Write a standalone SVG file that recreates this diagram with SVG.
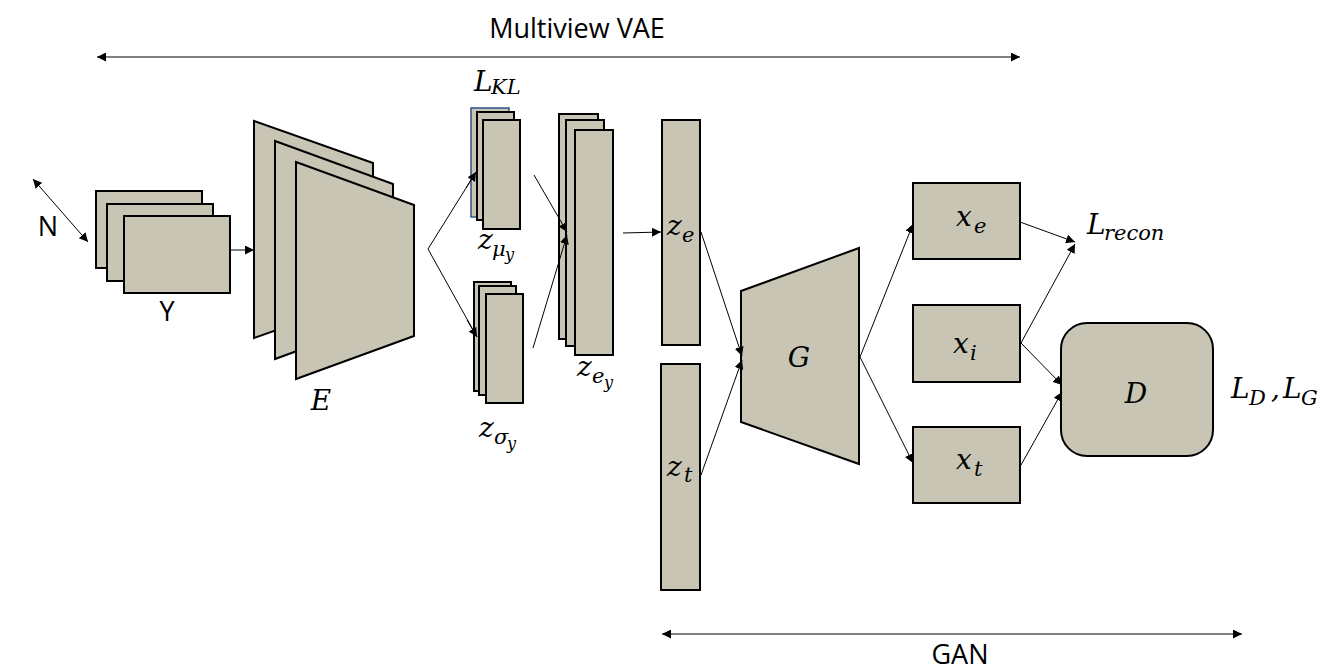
<svg xmlns="http://www.w3.org/2000/svg" width="1322" height="672" viewBox="0 0 1322 672">
<style>
.b{fill:#c8c5b4;stroke:#000;stroke-width:2}
.c{fill:none;stroke:#000;stroke-width:1}
.t{font-family:"Open Sans","Noto Sans",sans-serif;font-size:27px;fill:#000}
.m{font-family:"DejaVu Serif","Liberation Serif",serif;font-style:italic;font-size:28px;fill:#000}
.s{font-size:21px}
.ss{font-size:16px}
</style>
<defs>
<marker id="ah" viewBox="0 0 10 10" refX="10" refY="5" markerWidth="9" markerHeight="9" markerUnits="userSpaceOnUse" orient="auto-start-reverse"><path d="M0,0 L10,5 L0,10 z" fill="#000"/></marker>
</defs>
<rect width="1322" height="672" fill="#fff"/>

<g id="labels">
<text class="t" x="577" y="38" text-anchor="middle">Multiview VAE</text>
<text class="t" x="960" y="664" text-anchor="middle">GAN</text>
<text class="t" x="48" y="236" text-anchor="middle">N</text>
</g>

<g id="Y">
<rect class="b" x="96" y="191" width="106" height="77"/>
<rect class="b" x="107" y="204" width="106" height="77"/>
<rect class="b" x="124" y="216" width="106" height="77"/>
<text class="t" x="167" y="321" text-anchor="middle">Y</text>
</g>

<g id="E">
<polygon class="b" points="254,121 373,163 373,296 254,338"/>
<polygon class="b" points="275,141 393,184 393,316 275,359"/>
<polygon class="b" points="296,162 414,205 414,336 296,379"/>
<text class="m" x="321" y="410" text-anchor="middle">E</text>
</g>

<g id="zmu">
<rect x="471" y="108" width="38" height="109" fill="#c8c5b4" stroke="#2f528f" stroke-width="1.5"/>
<rect class="b" x="477" y="112" width="37" height="108"/>
<rect class="b" x="483" y="120" width="37" height="109"/>
<text class="m" x="474" y="91">L<tspan class="s" x="491" y="94">KL</tspan></text>
<text class="m" x="478" y="249">z<tspan class="s" x="492" y="256">μ</tspan><tspan class="ss" x="505" y="260">y</tspan></text>
</g>

<g id="zsigma">
<rect class="b" x="474" y="282" width="37" height="109"/>
<rect class="b" x="479" y="286" width="37" height="109"/>
<rect class="b" x="486" y="294" width="37" height="109"/>
<text class="m" x="479" y="437">z<tspan class="s" x="494" y="444">σ</tspan><tspan class="ss" x="507" y="449">y</tspan></text>
</g>

<g id="zey">
<rect class="b" x="559" y="114" width="39" height="225"/>
<rect class="b" x="566" y="120" width="38" height="226"/>
<rect class="b" x="575" y="130" width="38" height="225"/>
<text class="m" x="577" y="376">z<tspan class="s" x="592" y="383">e</tspan><tspan class="ss" x="604" y="388">y</tspan></text>
</g>

<g id="ze">
<rect class="b" x="662" y="120" width="38" height="225"/>
<text class="m" x="667" y="235">z<tspan class="s" x="682" y="242">e</tspan></text>
</g>

<g id="zt">
<rect class="b" x="661" y="364" width="39" height="226"/>
<text class="m" x="667" y="476">z<tspan class="s" x="684" y="482">t</tspan></text>
</g>

<g id="G">
<polygon class="b" points="741,291 859,248 859,464 741,422"/>
<text class="m" x="799" y="367" text-anchor="middle">G</text>
</g>

<g id="xe">
<rect class="b" x="913" y="183" width="107" height="76"/>
<text class="m" x="956" y="226">x<tspan class="s" x="974" y="233">e</tspan></text>
</g>
<g id="xi">
<rect class="b" x="913" y="305" width="107" height="77"/>
<text class="m" x="953" y="353">x<tspan class="s" x="970" y="360">i</tspan></text>
</g>
<g id="xt">
<rect class="b" x="913" y="427" width="107" height="76"/>
<text class="m" x="956" y="469">x<tspan class="s" x="974" y="476">t</tspan></text>
</g>

<g id="D">
<rect class="b" x="1061" y="323" width="152" height="133" rx="26" ry="26"/>
<text class="m" x="1136" y="403" text-anchor="middle">D</text>
</g>

<g id="losses">
<text class="m" x="1087" y="234">L<tspan class="s" x="1104" y="240">recon</tspan></text>
<text class="m" x="1231" y="398">L<tspan class="s" x="1249" y="405">D</tspan><tspan x="1271" y="398">,</tspan><tspan x="1283" y="398">L</tspan><tspan class="s" x="1301" y="405">G</tspan></text>
</g>

<g id="connectors">
<line class="c" x1="97" y1="57" x2="1020" y2="57" stroke="#222" marker-start="url(#ah)" marker-end="url(#ah)"/>
<line class="c" x1="662" y1="634" x2="1242" y2="634" marker-start="url(#ah)" marker-end="url(#ah)"/>
<line class="c" x1="33" y1="179" x2="88" y2="242" marker-start="url(#ah)" marker-end="url(#ah)"/>
<line class="c" x1="230" y1="250" x2="254" y2="250" marker-end="url(#ah)"/>
<polyline class="c" points="476,172 428,249 477,337"/>
<line class="c" x1="466" y1="188" x2="476" y2="172" marker-end="url(#ah)"/>
<line class="c" x1="467" y1="320" x2="477" y2="337" marker-end="url(#ah)"/>
<line class="c" x1="534" y1="175" x2="567" y2="232" marker-end="url(#ah)"/>
<line class="c" x1="533" y1="348" x2="567" y2="235" marker-end="url(#ah)"/>
<line class="c" x1="623" y1="233" x2="661" y2="232" marker-end="url(#ah)"/>
<line class="c" x1="701" y1="232" x2="742" y2="356" marker-end="url(#ah)"/>
<line class="c" x1="701" y1="475" x2="742" y2="360" marker-end="url(#ah)"/>
<line class="c" x1="860" y1="357" x2="913" y2="224" marker-end="url(#ah)"/>
<line class="c" x1="860" y1="357" x2="913" y2="463" marker-end="url(#ah)"/>
<line class="c" x1="1020" y1="222" x2="1075" y2="242" marker-end="url(#ah)"/>
<line class="c" x1="1021" y1="343" x2="1075" y2="244" marker-end="url(#ah)"/>
<line class="c" x1="1021" y1="343" x2="1062" y2="385" marker-end="url(#ah)"/>
<line class="c" x1="1021" y1="465" x2="1062" y2="392" marker-end="url(#ah)"/>
</g>
</svg>
